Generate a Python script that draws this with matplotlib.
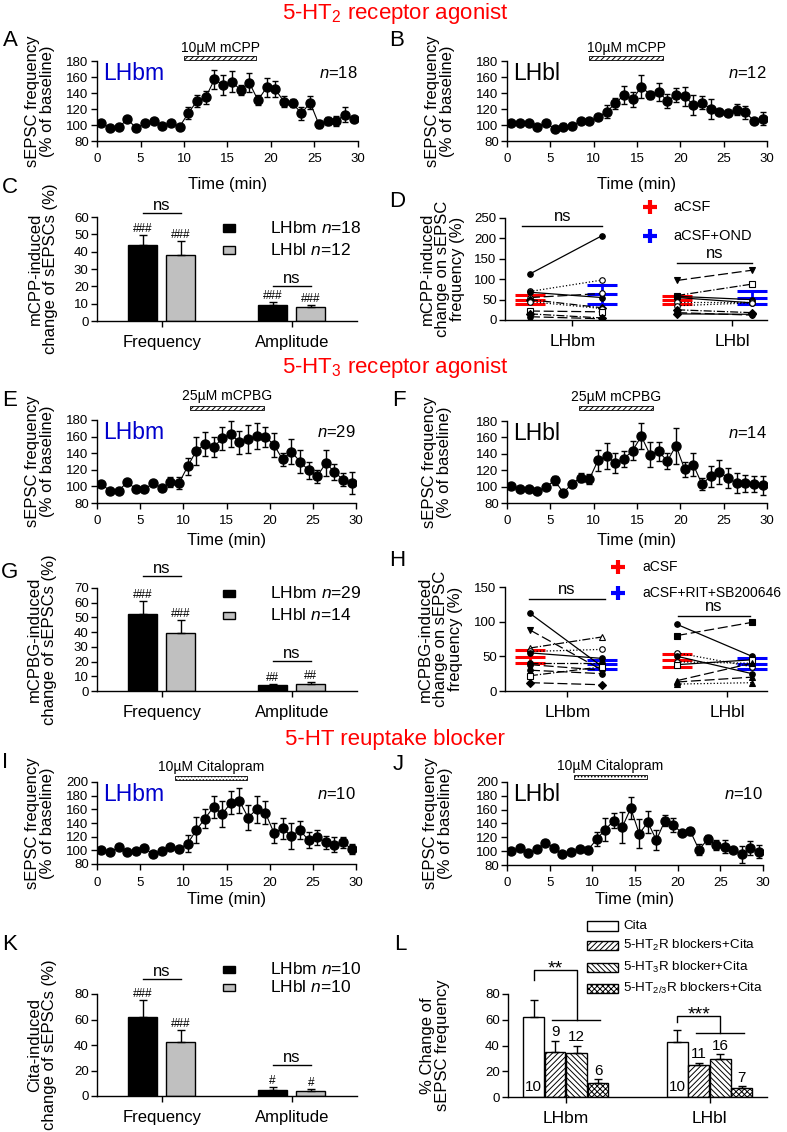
import numpy as np
import matplotlib
matplotlib.use('Agg')
import matplotlib.pyplot as plt
from matplotlib.patches import Rectangle
from matplotlib.lines import Line2D
from matplotlib import transforms

plt.rcParams['font.family'] = ['Liberation Sans', 'DejaVu Sans']
plt.rcParams['mathtext.fontset'] = 'custom'
plt.rcParams['mathtext.rm'] = 'Liberation Sans'
plt.rcParams['mathtext.it'] = 'Liberation Sans:italic'
plt.rcParams['hatch.linewidth'] = 0.7

# ---------------- data ----------------
minutes = np.arange(0.5, 30, 1.0)

# A: mCPP, LHbm
a_mean = [103, 96, 97, 107.5, 96, 102, 105.5, 99, 103, 98,
          115, 130, 134.5, 157, 150, 154, 144, 153, 131, 147,
          144.5, 129, 127, 114.5, 128, 101, 105, 105, 113, 107.5]
a_err = [2, 2, 2, 3, 2, 2, 2, 2, 2, 2,
         7, 8, 8, 12, 13, 13, 6, 12, 6, 12,
         10, 7, 5, 8, 8, 5, 5, 6, 9, 3]
# B: mCPP, LHbl
b_mean = [103, 103, 102, 98, 103, 95, 98, 99, 105, 104.5,
          110, 116.5, 127, 137.5, 132, 148, 138, 141.5, 130, 137.5,
          136, 125, 128, 120, 116.5, 114.5, 119, 116, 105, 108]
b_err = [2, 2, 2, 2, 2, 3, 4, 3, 2, 2,
         4, 8, 7, 11, 9, 14, 5, 11, 9, 9,
         12, 12, 8, 12, 3, 3, 7, 8, 3, 8]
# E: mCPBG, LHbm
e_mean = [103, 94.5, 95, 105, 97, 96.5, 104, 98, 105, 104,
          124, 143, 151, 147, 158, 163, 153, 157, 160.5, 160,
          150, 132.5, 142, 130, 119.5, 112, 128, 117.5, 108, 104]
e_err = [2, 2, 2, 3, 3, 2, 2, 3, 6, 7,
         10, 17, 14, 12, 14, 16, 14, 17, 16, 12,
         14, 8, 15, 14, 10, 8, 16, 10, 8, 13]
# F: mCPBG, LHbl
f_mean = [100.5, 97.5, 97.5, 94.5, 99.5, 107.5, 92.5, 103.5, 111, 109,
          132, 137, 129, 134, 144, 161.5, 139, 143, 131, 150,
          121, 126.5, 103, 112.5, 118, 110.5, 104, 104, 103.5, 101.5]
f_err = [2, 2, 2, 2, 2, 5, 3, 2, 5, 6,
         13, 16, 12, 10, 12, 16, 15, 12, 10, 22,
         9, 14, 7, 13, 15, 12, 12, 10, 10, 12]
# I: Citalopram, LHbm
i_mean = [100.5, 97, 104.5, 98, 99, 103, 94.5, 99.5, 104.5, 102,
          110, 129.5, 146.5, 163.5, 153, 169.5, 172.5, 148, 160, 155,
          125.5, 132, 121, 129.5, 115, 119, 111.5, 108, 111.5, 102]
i_err = [2, 2, 2, 2, 2, 2, 4, 2, 2, 2,
         12, 19, 14, 16, 19, 17, 18, 18, 20, 17,
         15, 16, 19, 13, 12, 11, 9, 11, 8, 7]
# J: Citalopram, LHbl
j_mean = [100, 105, 97, 103, 112.5, 105, 95.5, 99.5, 103, 102,
          117, 131, 144, 134.5, 162, 125, 142, 116, 144, 138,
          126, 128.5, 102, 117, 109, 106.5, 102, 95.5, 104, 99.5]
j_err = [2, 2, 2, 2, 3, 2, 2, 2, 2, 2,
         10, 17, 11, 22, 16, 21, 16, 14, 8, 10,
         3, 5, 8, 7, 7, 9, 3, 12, 10, 10]

# C, G, K: [Frequency, Amplitude]
c_bm, c_bm_err = [44, 9.2], [5.8, 1.9]
c_bl, c_bl_err = [38, 8.0], [8.3, 1.2]
g_bm, g_bm_err = [52, 4.0], [9, 1.0]
g_bl, g_bl_err = [39.5, 4.6], [9, 1.3]
k_bm, k_bm_err = [62, 4.8], [13, 2.5]
k_bl, k_bl_err = [42.5, 4.0], [9, 1.8]

# D: paired, aCSF -> aCSF+OND
d_bm_acsf = [113, 70, 68, 55, 50, 45, 22, 15, 8]
d_bm_ond = [207, 98, 55, 65, 30, 28, 20, 5, 3]
d_bl_acsf = [97, 60, 58, 55, 45, 35, 25, 18, 15]
d_bl_ond = [122, 88, 50, 42, 45, 42, 18, 12, 14]
d_mean_acsf, d_sem_acsf = [50, 48], [12, 10]
d_mean_ond, d_sem_ond = [63, 55], [23, 15]

# H: paired, aCSF -> aCSF+RIT+SB200646
h_bm_acsf = [112, 88, 62, 57, 55, 40, 38, 30, 22, 12]
h_bm_rit = [35, 30, 78, 60, 47, 40, 30, 25, 35, 9]
h_bl_acsf = [96, 80, 55, 50, 42, 38, 15, 13, 10]
h_bl_rit = [50, 99, 35, 25, 40, 45, 40, 20, 12]
h_mean_acsf, h_sem_acsf = [49.5, 44.5], [9.5, 9.5]
h_mean_rit, h_sem_rit = [38.5, 39.5], [6.5, 7.5]

# L: per treatment, [LHbm, LHbl]
l_labels = ['Cita', '5-HT$_2$R blockers+Cita', '5-HT$_3$R blocker+Cita',
            '5-HT$_{2/3}$R blockers+Cita']
l_means = [[62.4, 43.0], [34.7, 24.9], [34.4, 29.3], [11.1, 6.7]]
l_errs = [[13, 9], [9, 1.8], [5.5, 3.8], [2.6, 1.8]]
l_n = [[10, 10], [9, 11], [12, 16], [6, 7]]

# ---------------- figure ----------------
W, H = 787, 1132
fig = plt.figure(figsize=(W / 100, H / 100), dpi=100)


def add_ax(x0, x1, y0, y1):
    return fig.add_axes([x0 / W, 1 - y1 / H, (x1 - x0) / W, (y1 - y0) / H])


def fx(ax, x):
    b = ax.get_position()
    return (x / W - b.x0) / b.width


def fy(ax, y):
    b = ax.get_position()
    return ((1 - y / H) - b.y0) / b.height


def ftext(x, y, s, **kw):
    fig.text(x / W, 1 - y / H, s, **kw)


def style_axes(ax, xpad=5, xsize=9.5):
    for s in ['top', 'right']:
        ax.spines[s].set_visible(False)
    for s in ['left', 'bottom']:
        ax.spines[s].set_linewidth(1)
    ax.tick_params(direction='out', length=4, width=1)
    ax.tick_params(axis='y', pad=2, labelsize=9.5)
    ax.tick_params(axis='x', pad=xpad, labelsize=xsize)


def time_panel(ax, mean, err, ymax, region, rcolor, n, drug, span, hatch,
               bar_px, lab_px, ylab_px, xlab_px):
    ax.plot(minutes, mean, color='black', lw=0.8, zorder=2)
    ax.errorbar(minutes, mean, yerr=err, fmt='o', color='black', ms=6.5,
                elinewidth=1, capsize=2.5, capthick=1, zorder=3)
    ax.set_xlim(0, 30)
    ax.set_ylim(80, ymax)
    ax.set_xticks(range(0, 31, 5))
    ax.set_yticks(range(80, ymax + 1, 20))
    style_axes(ax)
    ax.set_xlabel('Time (min)', fontsize=12)
    ax.xaxis.set_label_coords(0.5, fy(ax, xlab_px))
    ax.set_ylabel('sEPSC frequency\n(% of baseline)', fontsize=12, linespacing=1.0)
    ax.yaxis.set_label_coords(fx(ax, ylab_px), 0.5)
    trans = transforms.blended_transform_factory(ax.transData, ax.transAxes)
    y0, y1 = fy(ax, bar_px + 1.8), fy(ax, bar_px - 1.8)
    ax.add_patch(Rectangle((span[0], y0), span[1] - span[0], y1 - y0,
                           transform=trans, clip_on=False, fc='white',
                           ec='black', lw=0.6, hatch=hatch))
    ax.text((span[0] + span[1]) / 2, fy(ax, lab_px), drug, transform=trans,
            ha='center', va='center', fontsize=10)
    ax.text(0.025, 0.85, region, color=rcolor, fontsize=16.5,
            transform=ax.transAxes, va='center')
    ax.text(1.0, 0.85, '$\\it{n}$=' + str(n), fontsize=12,
            transform=ax.transAxes, va='center', ha='right')


def bar_panel(ax, bm, bm_err, bl, bl_err, ymax, ystep, ylabel, marks, ns_y,
              n_bm, n_bl, leg_rows, ylab_px):
    cats = np.array([2.5, 7.5])
    xb, xg = cats - 0.75, cats + 0.72
    ax.bar(xb, bm, width=1.1, color='black', edgecolor='black', lw=1)
    ax.bar(xg, bl, width=1.1, color='#c0c0c0', edgecolor='black', lw=1)
    ax.errorbar(xb, bm, yerr=[[0, 0], bm_err], fmt='none', ecolor='black',
                elinewidth=1, capsize=3, capthick=1)
    ax.errorbar(xg, bl, yerr=[[0, 0], bl_err], fmt='none', ecolor='black',
                elinewidth=1, capsize=3, capthick=1)
    for i in range(2):
        ax.text(xb[i], bm[i] + bm_err[i], marks[i], ha='center', va='bottom', fontsize=8.5)
        ax.text(xg[i], bl[i] + bl_err[i], marks[i], ha='center', va='bottom', fontsize=8.5)
        ax.plot([xb[i], xg[i]], [ns_y[i]] * 2, color='black', lw=1, clip_on=False)
        ax.text(cats[i], ns_y[i], 'ns', ha='center', va='bottom', fontsize=12)
    ax.set_xlim(0, 10)
    ax.set_ylim(0, ymax)
    ax.set_yticks(np.arange(0, ymax + 1, ystep))
    ax.set_xticks(cats)
    ax.set_xticklabels(['Frequency', 'Amplitude'])
    style_axes(ax, xpad=6, xsize=12)
    ax.set_ylabel(ylabel, fontsize=12, linespacing=1.0)
    ax.yaxis.set_label_coords(fx(ax, ylab_px), 0.5)
    for y, fc, lab in zip(leg_rows, ['black', '#c0c0c0'],
                          ['LHbm $\\it{n}$=' + str(n_bm), 'LHbl $\\it{n}$=' + str(n_bl)]):
        fig.patches.append(Rectangle((223 / W, 1 - (y + 3.5) / H), 12 / W, 7 / H,
                                     transform=fig.transFigure, fc=fc, ec='black', lw=1))
        ftext(270, y, lab, va='center', fontsize=12.5)


def pair_panel(ax, xs, groups, styles, m_l, s_l, m_r, s_r, ymax, ticks, ylabel,
               ns, leg_mx, leg_x, leg_rows, leg_labels, leg_size, ylab_px):
    for g, (left, right) in enumerate(groups):
        xl, xr = xs[g]
        for a, b, (mk, filled, ls) in zip(left, right, styles[g]):
            ax.plot([xl, xr], [a, b], color='black', ls=ls, lw=0.9, marker=mk, ms=4,
                    mfc='black' if filled else 'white', mec='black', mew=0.8, zorder=3)
        ax.errorbar([xl], [m_l[g]], yerr=[s_l[g]], fmt='_', color='red', ms=22, mew=2.2,
                    elinewidth=2, capsize=11, capthick=2.2, zorder=2)
        ax.errorbar([xr], [m_r[g]], yerr=[s_r[g]], fmt='_', color='blue', ms=22, mew=2.2,
                    elinewidth=2, capsize=11, capthick=2.2, zorder=2)
        y, x0, x1 = ns[g]
        ax.plot([x0, x1], [y, y], color='black', lw=1, clip_on=False)
        ax.text((x0 + x1) / 2, y + ymax * 0.02, 'ns', ha='center', va='bottom', fontsize=12)
    ax.set_xlim(0, 10.5)
    ax.set_ylim(0, ymax)
    ax.set_yticks(np.arange(0, ymax + 1, 50))
    ax.set_xticks(ticks)
    ax.set_xticklabels(['LHbm', 'LHbl'])
    style_axes(ax, xpad=6, xsize=12.5)
    ax.set_ylabel(ylabel, fontsize=12, linespacing=1.0)
    ax.yaxis.set_label_coords(fx(ax, ylab_px), 0.5)
    for y, c, lab in zip(leg_rows, ['red', 'blue'], leg_labels):
        fig.add_artist(Line2D([leg_mx / W], [1 - y / H], marker='+', ms=10, mew=3,
                              color=c, transform=fig.transFigure))
        ftext(leg_x, y, lab, va='center', fontsize=leg_size)


# titles and panel letters
for y, s in [(13, '5-HT$_2$ receptor agonist'), (367, '5-HT$_3$ receptor agonist'),
             (740, '5-HT reuptake blocker')]:
    ftext(395, y, s, color='red', fontsize=16, ha='center', va='center')
for s, x, y in [('A', 10, 41), ('B', 397, 41), ('C', 10, 187), ('D', 397, 202),
                ('E', 10, 400), ('F', 399, 400), ('G', 10, 572), ('H', 397, 560),
                ('I', 5, 763), ('J', 398, 764), ('K', 10, 945), ('L', 400, 945)]:
    ftext(x, y, s, fontsize=16, ha='center', va='center')

# time courses
axA = add_ax(97, 358, 61, 141)
time_panel(axA, a_mean, a_err, 180, 'LHbm', '#0000cc', 18, '10µM mCPP', (10, 18.3),
           '//////', 58, 48, 55, 177)
axB = add_ax(507, 767, 61, 141)
time_panel(axB, b_mean, b_err, 180, 'LHbl', 'black', 12, '10µM mCPP', (9.5, 18.0),
           '//////', 58, 48, 455, 177)
axE = add_ax(97, 356, 420, 503)
time_panel(axE, e_mean, e_err, 180, 'LHbm', '#0000cc', 29, '25µM mCPBG', (10.8, 19.4),
           '//////', 408, 396, 55, 533)
axF = add_ax(507, 767, 421, 503)
time_panel(axF, f_mean, f_err, 180, 'LHbl', 'black', 14, '25µM mCPBG', (8.3, 16.8),
           '//////', 408, 397, 452, 533)
axI = add_ax(97, 356, 782, 864)
time_panel(axI, i_mean, i_err, 200, 'LHbm', '#0000cc', 10, '10µM Citalopram', (9.0, 17.4),
           '.....', 778, 767, 55, 892)
axJ = add_ax(507, 763, 782, 865)
time_panel(axJ, j_mean, j_err, 200, 'LHbl', 'black', 10, '10µM Citalopram', (7.85, 16.4),
           '.....', 777, 766, 453, 892)

# bar summaries
axC = add_ax(97, 357, 217, 321)
bar_panel(axC, c_bm, c_bm_err, c_bl, c_bl_err, 60, 10,
          'mCPP-induced\nchange of sEPSCs (%)', ['###', '###'], [62.3, 20.2],
          18, 12, [228, 250], 58)
axG = add_ax(97, 357, 588, 691)
bar_panel(axG, g_bm, g_bm_err, g_bl, g_bl_err, 70, 10,
          'mCPBG-induced\nchange of sEPSCs (%)', ['###', '##'], [78, 20.4],
          29, 14, [593, 615], 57)
axK = add_ax(97, 357, 994, 1096)
bar_panel(axK, k_bm, k_bm_err, k_bl, k_bl_err, 80, 20,
          'Cita-induced\nchange of sEPSCs (%)', ['###', '#'], [91.8, 24.3],
          10, 10, [969, 987], 57)

# paired panels
fd = (0, (8, 3))
d_styles = [
    [('o', True, '-'), ('o', False, ':'), ('o', True, '-'), ('o', False, fd),
     ('D', True, '-.'), ('o', False, ':'), ('s', False, fd), ('D', True, '-.'), ('o', True, fd)],
    [('v', True, fd), ('s', False, '-.'), ('o', True, '-'), ('o', True, '-'),
     ('o', False, ':'), ('o', False, ':'), ('D', True, '-.'), ('o', True, fd), ('D', True, '-')],
]
axD = add_ax(505, 767, 218, 320)
pair_panel(axD, [(1.0, 3.9), (6.9, 9.9)], [(d_bm_acsf, d_bm_ond), (d_bl_acsf, d_bl_ond)],
           d_styles, d_mean_acsf, d_sem_acsf, d_mean_ond, d_sem_ond, 250, [2.7, 9.1],
           'mCPP-induced\nchange on sEPSC\nfrequency (%)',
           [(230, 0.7, 3.9), (140, 6.9, 9.9)], 650, 673, [207, 236],
           ['aCSF', 'aCSF+OND'], 10.5, 465)

h_styles = [
    [('o', True, '-'), ('v', True, fd), ('^', False, '-.'), ('o', False, ':'),
     ('o', True, '-'), ('o', True, '-.'), ('o', True, fd), ('o', True, fd),
     ('s', False, '-.'), ('D', True, fd)],
    [('o', True, '-'), ('s', True, fd), ('o', False, ':'), ('o', True, '-'),
     ('o', False, ':'), ('s', False, '-'), ('^', True, fd), ('^', True, fd), ('^', True, ':')],
]
axH = add_ax(505, 767, 587, 691)
pair_panel(axH, [(1.0, 3.9), (6.9, 9.9)], [(h_bm_acsf, h_bm_rit), (h_bl_acsf, h_bl_rit)],
           h_styles, h_mean_acsf, h_sem_acsf, h_mean_rit, h_sem_rit, 150, [2.5, 8.9],
           'mCPBG-induced\nchange on sEPSC\nfrequency (%)',
           [(133, 0.96, 4.0), (108, 6.93, 9.8)], 618, 642, [567, 593],
           ['aCSF', 'aCSF+RIT+SB200646'], 10, 463)

# L: blockers
axL = add_ax(508, 767, 994, 1097)
centers = np.array([2.23, 7.78])
offsets = [-1.245, -0.415, 0.415, 1.245]
hatches = ['', '//////', '\\\\\\\\\\\\', 'xxxxxx']
bar_x = []
for k in range(4):
    xs = centers + offsets[k]
    bar_x.append(xs)
    axL.bar(xs, l_means[k], width=0.8, color='white', edgecolor='black', lw=1,
            hatch=hatches[k], label=l_labels[k])
    axL.errorbar(xs, l_means[k], yerr=[[0, 0], l_errs[k]], fmt='none', ecolor='black',
                 elinewidth=1, capsize=3, capthick=1)
    for g in range(2):
        if k == 0:
            axL.text(xs[g], 8, str(l_n[k][g]), ha='center', va='center', fontsize=11)
        else:
            axL.text(xs[g], l_means[k][g] + l_errs[k][g] + 1, str(l_n[k][g]),
                     ha='center', va='bottom', fontsize=11)
for g, sig, (y0, y1, y2) in [(0, '**', (91, 99, 60)), (1, '***', (58, 63, 49.5))]:
    x0 = bar_x[0][g]
    xm = (bar_x[1][g] + bar_x[3][g]) / 2
    axL.plot([x0, x0, xm, xm], [y0, y1, y1, y2], color='black', lw=1, clip_on=False)
    axL.plot([bar_x[1][g] - 0.1, bar_x[3][g] + 0.08], [y2, y2], color='black', lw=1,
             clip_on=False)
    axL.text((x0 + xm) / 2, y1 - 3, sig, ha='center', va='baseline', fontsize=14)
axL.set_xlim(0, 10)
axL.set_ylim(0, 80)
axL.set_yticks(range(0, 81, 20))
axL.set_xticks(centers)
axL.set_xticklabels(['LHbm', 'LHbl'])
style_axes(axL, xpad=6, xsize=12.5)
axL.set_ylabel('% Change of\nsEPSC frequency', fontsize=12, linespacing=1.0)
axL.yaxis.set_label_coords(fx(axL, 450), 0.5)
for k, y in enumerate([926, 945.5, 967.5, 988.5]):
    fig.patches.append(Rectangle((587 / W, 1 - (y + 4.8) / H), 31 / W, 9.6 / H,
                                 transform=fig.transFigure, fc='white', ec='black',
                                 lw=1, hatch=hatches[k]))
    ftext(623, y, l_labels[k], va='center', fontsize=9.6)

fig.savefig('out.png', dpi=100)
